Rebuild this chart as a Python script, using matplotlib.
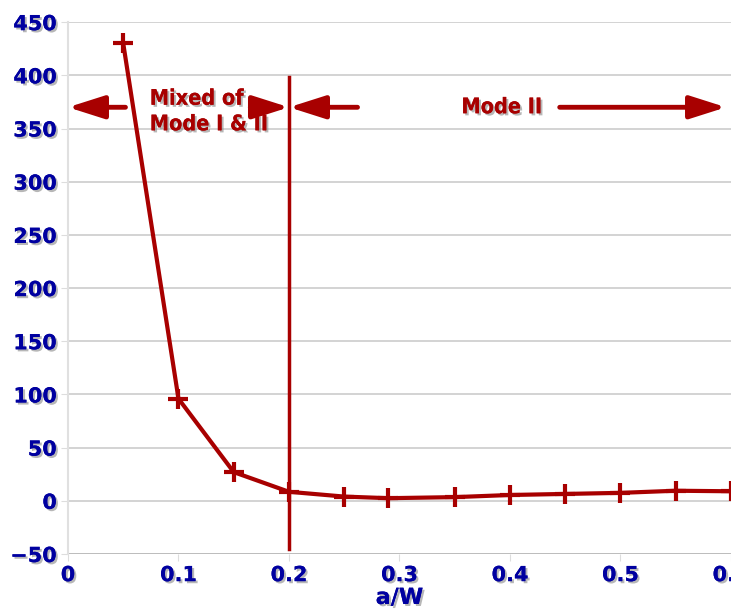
import matplotlib
matplotlib.use("Agg")
import matplotlib.pyplot as plt
import matplotlib.patheffects as pe

# data
a_w = [0.05, 0.10, 0.15, 0.20, 0.25, 0.29, 0.35, 0.40, 0.45, 0.50, 0.55, 0.60]
values = [430, 96, 27, 8.5, 4, 2.5, 3.5, 5.5, 6.5, 7.5, 9.5, 9]
x_ticks = [0, 0.1, 0.2, 0.3, 0.4, 0.5, 0.6]
x_tick_labels = ["0", "0.1", "0.2", "0.3", "0.4", "0.5", "0.6"]
y_ticks = [-50, 0, 50, 100, 150, 200, 250, 300, 350, 400, 450]

red = "#A80000"
blue = "#0000A0"
shadow = [pe.withSimplePatchShadow(offset=(1.5, -1.5), shadow_rgbFace="#888888", alpha=0.6), pe.Normal()]

fig = plt.figure(figsize=(7.31, 6.16), dpi=100)
ax = fig.add_axes([0.093, 0.1006, 0.907, 0.8634])

ax.plot(a_w, values, color=red, lw=3, marker="+", ms=14, mew=3, zorder=3, clip_on=False)

# boundary between the two regions
ax.plot([0.2, 0.2], [-45, 398], color=red, lw=2.5, zorder=3)

arrow = dict(arrowstyle="-|>,head_length=2.2,head_width=0.7", color=red, lw=3.5, shrinkA=0, shrinkB=0)
ax.annotate("", xy=(0.0, 370), xytext=(0.052, 370), arrowprops=arrow)
ax.annotate("", xy=(0.2, 370), xytext=(0.165, 370), arrowprops=arrow)
ax.annotate("", xy=(0.2, 370), xytext=(0.262, 370), arrowprops=arrow)
ax.annotate("", xy=(0.5955, 370), xytext=(0.445, 370), arrowprops=arrow, annotation_clip=False)

ax.text(0.074, 366, "Mixed of\nMode I & II", color=red, fontsize=15.5, fontweight="bold",
        fontstretch="condensed", ha="left", va="center", linespacing=1.35, path_effects=shadow)
ax.text(0.3925, 370, "Mode II", color=red, fontsize=15.5, fontweight="bold",
        fontstretch="condensed", ha="center", va="center", path_effects=shadow)

ax.set_xlim(0, 0.5955)
ax.set_ylim(-50, 450)
ax.set_xticks(x_ticks)
ax.set_xticklabels(x_tick_labels)
ax.set_yticks(y_ticks)
ax.grid(axis="y", color="#cccccc", lw=1.2)
ax.set_axisbelow(True)

for s in ["top", "right", "bottom"]:
    ax.spines[s].set_visible(False)
ax.spines["left"].set_color("#e0e0e0")
ax.spines["left"].set_linewidth(1.5)
ax.axhline(-50, color="#bbbbbb", lw=2, zorder=1)

ax.tick_params(axis="both", length=5, color="#dddddd", labelsize=15, labelcolor=blue, pad=3)
for lab in ax.get_xticklabels() + ax.get_yticklabels():
    lab.set_fontweight("bold")
    lab.set_path_effects(shadow)

ax.set_xlabel("a/W", color=blue, fontsize=16, fontweight="bold", labelpad=2, path_effects=shadow)

fig.savefig("out.png", dpi=100)
